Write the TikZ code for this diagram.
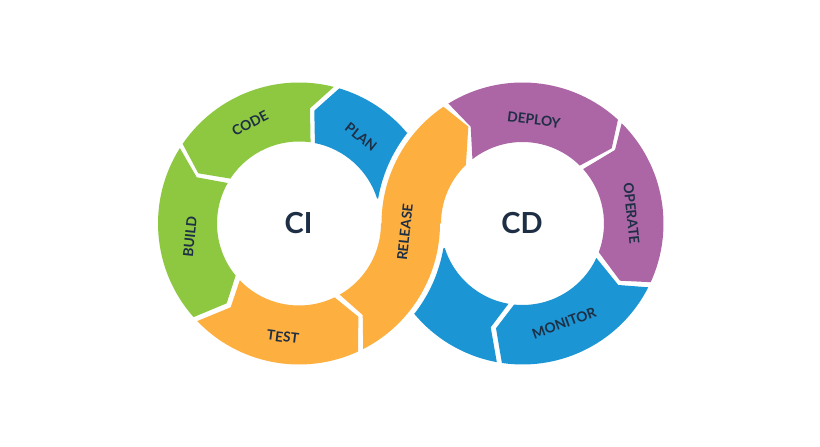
\documentclass[tikz,border=0pt]{standalone}
\usepackage{fontspec}
\setmainfont{Lato}
\usetikzlibrary{calc}
\definecolor{cgreen}{HTML}{8DC840}
\definecolor{cblue}{HTML}{1B95D3}
\definecolor{corange}{HTML}{FDAF40}
\definecolor{cpurple}{HTML}{AC65A5}
\definecolor{cink}{HTML}{1E2F45}
\def\arcseg#1#2#3#4{-- ($(#1)+(#3:#2)$) arc[start angle=#3,end angle=#4,radius=#2]}
\tikzset{
  lab/.style={text=cink,font=\fontsize{13.8}{14}\selectfont\bfseries,inner sep=0pt},
  big/.style={text=cink,font=\fontsize{29}{29}\selectfont\bfseries,inner sep=0pt},
}
\begin{document}
\begin{tikzpicture}[x=1pt,y=1pt]
\useasboundingbox (0,0) rectangle (820,447);
\fill[white] (0,0) rectangle (820,447);
\coordinate (cL) at (299,223.5);
\coordinate (cR) at (522.5,223.5);
% CODE
\fill[cgreen] (182.7,303) \arcseg{cL}{141}{145.6}{75.7} -- (310,338.7) \arcseg{cL}{82}{81.9}{146.8} -- (198.3,273.7) -- cycle;
% PLAN
\fill[cblue] (314.3,336.3) \arcseg{cL}{141}{73.4}{40.1} \arcseg{cR}{146.5}{141.6}{170.1} \arcseg{cL}{82}{17.6}{78.8} -- cycle;
% BUILD
\fill[cgreen] (180,298.7) -- (196.7,269.7) \arcseg{cL}{82}{150.4}{219.4} -- (226.7,143.7) \arcseg{cL}{141}{221.6}{147.7} -- cycle;
% TEST
\fill[corange] (230.7,139.7) \arcseg{cL}{82}{223.8}{295.7} -- (358.3,130.3) \arcseg{cL}{141}{294.8}{223.8} -- cycle;
% RELEASE
\fill[corange] (362.7,132) \arcseg{cL}{82}{299.8}{360} \arcseg{cR}{141}{180}{124.1} -- (468.3,320.3) \arcseg{cR}{81.5}{134}{180} \arcseg{cL}{141}{360}{297.1} -- cycle;
% DEPLOY
\fill[cpurple] (470.7,320.3) \arcseg{cR}{141}{121.7}{47.4} -- (611.7,298.7) \arcseg{cR}{81.5}{45.3}{127.9} -- cycle;
% OPERATE
\fill[cpurple] (615,297) \arcseg{cR}{141}{45.3}{-24.6} -- (620,166.3) \arcseg{cR}{81.5}{-20.6}{41.9} -- cycle;
% MONITOR
\fill[cblue] (496,118.7) \arcseg{cR}{141}{261.6}{333.1} -- (618.3,162) \arcseg{cR}{81.5}{335}{264.1} -- cycle;
% lower left blue
\fill[cblue] (490.7,119.7) \arcseg{cR}{141}{259.5}{219.6} \arcseg{cL}{146.5}{-38}{-9.75} \arcseg{cR}{81.5}{197.4}{260.1} -- cycle;
% labels
\node[big] (ci) at (298.5,223.5) {CI};
\node[big] (cd) at (522,223.5) {CD};
\node[lab,rotate=27] (code) at (250,324) {CODE};
\node[lab,rotate=-38] (plan) at (361,310) {PLAN};
\node[lab,rotate=84] (build) at (190,210) {BUILD};
\node[lab,rotate=-7] (test) at (283,110) {TEST};
\node[lab,rotate=84] (release) at (405,215) {RELEASE};
\node[lab,rotate=-7] (deploy) at (534,327) {DEPLOY};
\node[lab,rotate=-84] (operate) at (631.5,233.5) {OPERATE};
\node[lab,rotate=20] (monitor) at (564,124) {MONITOR};
\end{tikzpicture}
\end{document}
